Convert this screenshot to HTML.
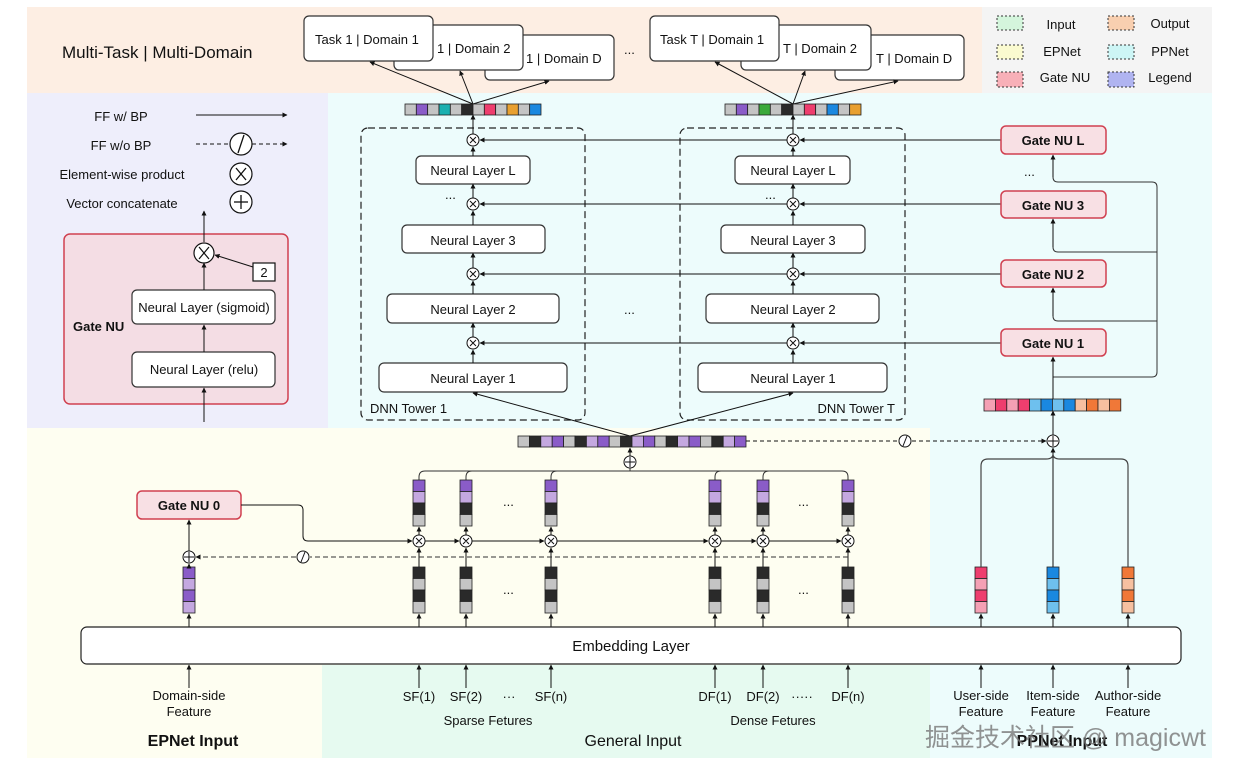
<!DOCTYPE html>
<html><head><meta charset="utf-8"><style>
html,body{margin:0;padding:0;background:#fff;}
svg{display:block;font-family:"Liberation Sans","Noto Sans CJK SC",sans-serif;}
.t{font-size:13px;fill:#111;}
.b{font-weight:bold;}
</style></head><body>
<svg width="1236" height="774" viewBox="0 0 1236 774" xmlns="http://www.w3.org/2000/svg">
<defs>
<marker id="a" viewBox="0 0 10 10" refX="9" refY="5" markerWidth="5" markerHeight="5" orient="auto"><path d="M0,0 L10,5 L0,10z" fill="#111"/></marker>
</defs>
<rect x="27" y="7" width="955" height="86" fill="#fdeee3"/>
<rect x="982" y="7" width="230" height="86" fill="#f4f4f4"/>
<rect x="27" y="93" width="301" height="335" fill="#eeeefb"/>
<rect x="328" y="93" width="884" height="335" fill="#edfcfc"/>
<rect x="930" y="428" width="282" height="330" fill="#edfcfc"/>
<rect x="27" y="428" width="903" height="330" fill="#fefef1"/>
<rect x="322" y="665" width="608" height="93" fill="#e6faf0"/>

<g stroke="#333" stroke-dasharray="2,2" stroke-width="1">
<rect x="997" y="16" width="26" height="14" fill="#d4f5dc"/>
<rect x="997" y="45" width="26" height="14" fill="#fafad0"/>
<rect x="997" y="72" width="26" height="15" fill="#f8b0b8"/>
<rect x="1108" y="16" width="26" height="14" fill="#f8cfb0"/>
<rect x="1108" y="45" width="26" height="14" fill="#cdf5f5"/>
<rect x="1108" y="72" width="26" height="15" fill="#b0b4f0"/>
</g>
<g class="t" font-size="15" text-anchor="middle">
<text x="1061" y="29">Input</text><text x="1062" y="56">EPNet</text><text x="1065" y="82">Gate NU</text>
<text x="1170" y="28">Output</text><text x="1170" y="56">PPNet</text><text x="1170" y="82">Legend</text>
</g>

<text x="62" y="58" font-size="17" fill="#111">Multi-Task | Multi-Domain</text>

<g fill="#fff" stroke="#333" stroke-width="1.2">
<rect x="485" y="35" width="129" height="45" rx="5"/>
<rect x="394" y="25" width="129" height="45" rx="5"/>
<rect x="304" y="16" width="129" height="45" rx="5"/>
<rect x="835" y="35" width="129" height="45" rx="5"/>
<rect x="741" y="25" width="130" height="45" rx="5"/>
<rect x="650" y="16" width="129" height="45" rx="5"/>
</g>
<g class="t">
<text x="315" y="44">Task 1 | Domain 1</text>
<text x="437" y="53">1 | Domain 2</text>
<text x="526" y="63">1 | Domain D</text>
<text x="660" y="44">Task T | Domain 1</text>
<text x="783" y="53">T | Domain 2</text>
<text x="876" y="63">T | Domain D</text>
<text x="624" y="54">...</text>
</g>
<g stroke="#111" stroke-width="1" marker-end="url(#a)">
<line x1="473" y1="104" x2="370" y2="62"/>
<line x1="473" y1="104" x2="460" y2="71"/>
<line x1="473" y1="104" x2="549" y2="81"/>
<line x1="793" y1="104" x2="715" y2="62"/>
<line x1="793" y1="104" x2="805" y2="71"/>
<line x1="793" y1="104" x2="898" y2="81"/>
</g>

<g stroke="#222" stroke-width="0.8">
<rect x="405" y="104" width="11.33" height="11" fill="#c4c4c4"/><rect x="416.33" y="104" width="11.33" height="11" fill="#8a5cc8"/><rect x="427.66" y="104" width="11.33" height="11" fill="#c4c4c4"/><rect x="439" y="104" width="11.33" height="11" fill="#1ab0b0"/><rect x="450.33" y="104" width="11.33" height="11" fill="#c4c4c4"/><rect x="461.66" y="104" width="11.33" height="11" fill="#2a2a2a"/><rect x="473" y="104" width="11.33" height="11" fill="#c4c4c4"/><rect x="484.33" y="104" width="11.33" height="11" fill="#ee3e6e"/><rect x="495.66" y="104" width="11.33" height="11" fill="#c4c4c4"/><rect x="507" y="104" width="11.33" height="11" fill="#e8a030"/><rect x="518.33" y="104" width="11.33" height="11" fill="#c4c4c4"/><rect x="529.66" y="104" width="11.33" height="11" fill="#1a88e0"/>
<rect x="725" y="104" width="11.33" height="11" fill="#c4c4c4"/><rect x="736.33" y="104" width="11.33" height="11" fill="#8a5cc8"/><rect x="747.66" y="104" width="11.33" height="11" fill="#c4c4c4"/><rect x="759" y="104" width="11.33" height="11" fill="#3aaa3a"/><rect x="770.33" y="104" width="11.33" height="11" fill="#c4c4c4"/><rect x="781.66" y="104" width="11.33" height="11" fill="#2a2a2a"/><rect x="793" y="104" width="11.33" height="11" fill="#c4c4c4"/><rect x="804.33" y="104" width="11.33" height="11" fill="#ee3e6e"/><rect x="815.66" y="104" width="11.33" height="11" fill="#c4c4c4"/><rect x="827" y="104" width="11.33" height="11" fill="#1a88e0"/><rect x="838.33" y="104" width="11.33" height="11" fill="#c4c4c4"/><rect x="849.66" y="104" width="11.33" height="11" fill="#e8a030"/>
</g>

<g fill="none" stroke="#222" stroke-width="1.2" stroke-dasharray="7,4">
<rect x="361" y="128" width="224" height="292" rx="7"/>
<rect x="680" y="128" width="225" height="292" rx="7"/>
</g>
<text x="370" y="413" class="t" font-size="14">DNN Tower 1</text>
<text x="895" y="413" class="t" font-size="14" text-anchor="end">DNN Tower T</text>

<g fill="#fff" stroke="#333" stroke-width="1.2">
<rect x="416" y="156" width="114" height="28" rx="5"/>
<rect x="402" y="225" width="143" height="28" rx="5"/>
<rect x="387" y="294" width="172" height="29" rx="5"/>
<rect x="379" y="363" width="188" height="29" rx="5"/>
<rect x="735" y="156" width="115" height="28" rx="5"/>
<rect x="721" y="225" width="144" height="28" rx="5"/>
<rect x="706" y="294" width="173" height="29" rx="5"/>
<rect x="698" y="363" width="189" height="29" rx="5"/>
</g>
<g class="t" font-size="14" text-anchor="middle">
<text x="473" y="175">Neural Layer L</text><text x="473" y="245">Neural Layer 3</text><text x="473" y="314">Neural Layer 2</text><text x="473" y="383">Neural Layer 1</text>
<text x="793" y="175">Neural Layer L</text><text x="793" y="245">Neural Layer 3</text><text x="793" y="314">Neural Layer 2</text><text x="793" y="383">Neural Layer 1</text>
</g>
<g class="t"><text x="445" y="199">...</text><text x="765" y="199">...</text><text x="624" y="314">...</text><text x="1024" y="176">...</text></g>

<g stroke="#111" stroke-width="1" marker-end="url(#a)">
<line x1="473" y1="363" x2="473" y2="350"/><line x1="473" y1="337" x2="473" y2="323"/><line x1="473" y1="294" x2="473" y2="281"/><line x1="473" y1="268" x2="473" y2="253"/><line x1="473" y1="225" x2="473" y2="211"/><line x1="473" y1="198" x2="473" y2="184"/><line x1="473" y1="156" x2="473" y2="147"/><line x1="473" y1="134" x2="473" y2="115"/>
<line x1="793" y1="363" x2="793" y2="350"/><line x1="793" y1="337" x2="793" y2="323"/><line x1="793" y1="294" x2="793" y2="281"/><line x1="793" y1="268" x2="793" y2="253"/><line x1="793" y1="225" x2="793" y2="211"/><line x1="793" y1="198" x2="793" y2="184"/><line x1="793" y1="156" x2="793" y2="147"/><line x1="793" y1="134" x2="793" y2="115"/>
<line x1="1001" y1="140" x2="800" y2="140"/><line x1="787" y1="140" x2="480" y2="140"/>
<line x1="1001" y1="204" x2="800" y2="204"/><line x1="787" y1="204" x2="480" y2="204"/>
<line x1="1001" y1="274" x2="800" y2="274"/><line x1="787" y1="274" x2="480" y2="274"/>
<line x1="1001" y1="343" x2="800" y2="343"/><line x1="787" y1="343" x2="480" y2="343"/>
<line x1="630" y1="436" x2="473" y2="393"/><line x1="630" y1="436" x2="793" y2="393"/>
</g>
<g fill="#fff" stroke="#111" stroke-width="1">
<circle cx="473" cy="140" r="6"/><circle cx="473" cy="204" r="6"/><circle cx="473" cy="274" r="6"/><circle cx="473" cy="343" r="6"/>
<circle cx="793" cy="140" r="6"/><circle cx="793" cy="204" r="6"/><circle cx="793" cy="274" r="6"/><circle cx="793" cy="343" r="6"/>
<circle cx="419" cy="541" r="6"/><circle cx="466" cy="541" r="6"/><circle cx="551" cy="541" r="6"/><circle cx="715" cy="541" r="6"/><circle cx="763" cy="541" r="6"/><circle cx="848" cy="541" r="6"/>
</g>
<g stroke="#111" stroke-width="1">
<path d="M470,137l6,6M476,137l-6,6M470,201l6,6M476,201l-6,6M470,271l6,6M476,271l-6,6M470,340l6,6M476,340l-6,6"/>
<path d="M790,137l6,6M796,137l-6,6M790,201l6,6M796,201l-6,6M790,271l6,6M796,271l-6,6M790,340l6,6M796,340l-6,6"/>
<path d="M416,538l6,6M422,538l-6,6M463,538l6,6M469,538l-6,6M548,538l6,6M554,538l-6,6M712,538l6,6M718,538l-6,6M760,538l6,6M766,538l-6,6M845,538l6,6M851,538l-6,6"/>
</g>

<g fill="#f8e0e4" stroke="#d04050" stroke-width="1.5">
<rect x="1001" y="126" width="105" height="28" rx="5"/>
<rect x="1001" y="191" width="105" height="27" rx="5"/>
<rect x="1001" y="260" width="105" height="27" rx="5"/>
<rect x="1001" y="329" width="105" height="27" rx="5"/>
<rect x="137" y="491" width="104" height="28" rx="5"/>
</g>
<g class="t b" font-size="14" text-anchor="middle">
<text x="1053" y="145">Gate NU L</text><text x="1053" y="210">Gate NU 3</text><text x="1053" y="279">Gate NU 2</text><text x="1053" y="348">Gate NU 1</text>
<text x="189" y="510">Gate NU 0</text>
</g>

<g fill="none" stroke="#333" stroke-width="1">
<path d="M1053,377 H1152 Q1157,377 1157,372 V187 Q1157,182 1152,182 H1058 Q1053,182 1053,177"/>
<path d="M1157,321 H1058 Q1053,321 1053,316"/>
<path d="M1157,252 H1058 Q1053,252 1053,247"/>
</g>
<g stroke="#111" stroke-width="1" marker-end="url(#a)">
<line x1="1053" y1="399" x2="1053" y2="357"/>
<line x1="1053" y1="316" x2="1053" y2="288"/>
<line x1="1053" y1="247" x2="1053" y2="219"/>
<line x1="1053" y1="177" x2="1053" y2="155"/>
<line x1="1053" y1="435" x2="1053" y2="411"/>
</g>
<g stroke="#222" stroke-width="0.8">
<rect x="984" y="399" width="11.4" height="12" fill="#f4a0b4"/><rect x="995.4" y="399" width="11.4" height="12" fill="#ee3e6e"/><rect x="1006.8" y="399" width="11.4" height="12" fill="#f4a0b4"/><rect x="1018.2" y="399" width="11.4" height="12" fill="#ee3e6e"/><rect x="1029.6" y="399" width="11.4" height="12" fill="#6ec0ee"/><rect x="1041" y="399" width="11.4" height="12" fill="#1a88e0"/><rect x="1052.4" y="399" width="11.4" height="12" fill="#6ec0ee"/><rect x="1063.8" y="399" width="11.4" height="12" fill="#1a88e0"/><rect x="1075.2" y="399" width="11.4" height="12" fill="#f6c0a0"/><rect x="1086.6" y="399" width="11.4" height="12" fill="#f07838"/><rect x="1098" y="399" width="11.4" height="12" fill="#f6c0a0"/><rect x="1109.4" y="399" width="11.4" height="12" fill="#f07838"/>
</g>

<g class="t" text-anchor="middle">
<text x="121" y="121">FF w/ BP</text>
<text x="121" y="150">FF w/o BP</text>
<text x="122" y="179">Element-wise product</text>
<text x="122" y="208">Vector concatenate</text>
</g>
<g stroke="#111" stroke-width="1">
<line x1="196" y1="115" x2="287" y2="115" marker-end="url(#a)"/>
<line x1="196" y1="144" x2="231" y2="144" stroke-dasharray="4,3"/>
<line x1="252" y1="144" x2="287" y2="144" stroke-dasharray="4,3" marker-end="url(#a)"/>
</g>
<g fill="#fff" stroke="#111" stroke-width="1.2">
<circle cx="241" cy="144" r="11"/><circle cx="241" cy="174" r="11"/><circle cx="241" cy="202" r="11"/>
</g>
<g stroke="#111" stroke-width="1.3">
<line x1="238" y1="153" x2="244" y2="135"/>
<line x1="236" y1="168" x2="246" y2="180"/><line x1="246" y1="168" x2="236" y2="180"/>
<line x1="234" y1="202" x2="248" y2="202"/><line x1="241" y1="195" x2="241" y2="209"/>
</g>
<rect x="64" y="234" width="224" height="170" rx="6" fill="#f4dde4" stroke="#d04050" stroke-width="1.5"/>
<g fill="#fff" stroke="#333" stroke-width="1.2">
<rect x="132" y="290" width="143" height="34" rx="5"/>
<rect x="132" y="352" width="143" height="35" rx="5"/>
</g>
<g class="t" text-anchor="middle"><text x="204" y="312">Neural Layer (sigmoid)</text><text x="204" y="374">Neural Layer (relu)</text></g>
<text x="73" y="331" class="t b" font-size="13">Gate NU</text>
<g stroke="#111" stroke-width="1" marker-end="url(#a)">
<line x1="204" y1="422" x2="204" y2="388"/>
<line x1="204" y1="352" x2="204" y2="325"/>
<line x1="204" y1="290" x2="204" y2="263"/>
<line x1="204" y1="242" x2="204" y2="211"/>
<line x1="253" y1="267" x2="215" y2="255"/>
</g>
<circle cx="204" cy="253" r="10" fill="#fff" stroke="#111" stroke-width="1.2"/>
<path d="M199,247l10,12M209,247l-10,12" stroke="#111" stroke-width="1.2"/>
<rect x="253" y="263" width="22" height="18" fill="#fff" stroke="#111" stroke-width="1.2"/>
<text x="264" y="277" class="t" text-anchor="middle">2</text>

<g stroke="#222" stroke-width="0.8">
<rect x="518" y="436" width="11.4" height="11" fill="#c4c4c4"/><rect x="529.4" y="436" width="11.4" height="11" fill="#2a2a2a"/><rect x="540.8" y="436" width="11.4" height="11" fill="#c4a8e0"/><rect x="552.2" y="436" width="11.4" height="11" fill="#8a5cc8"/><rect x="563.6" y="436" width="11.4" height="11" fill="#c4c4c4"/><rect x="575" y="436" width="11.4" height="11" fill="#2a2a2a"/><rect x="586.4" y="436" width="11.4" height="11" fill="#c4a8e0"/><rect x="597.8" y="436" width="11.4" height="11" fill="#8a5cc8"/><rect x="609.2" y="436" width="11.4" height="11" fill="#c4c4c4"/><rect x="620.6" y="436" width="11.4" height="11" fill="#2a2a2a"/><rect x="632" y="436" width="11.4" height="11" fill="#c4a8e0"/><rect x="643.4" y="436" width="11.4" height="11" fill="#8a5cc8"/><rect x="654.8" y="436" width="11.4" height="11" fill="#c4c4c4"/><rect x="666.2" y="436" width="11.4" height="11" fill="#2a2a2a"/><rect x="677.6" y="436" width="11.4" height="11" fill="#c4a8e0"/><rect x="689" y="436" width="11.4" height="11" fill="#8a5cc8"/><rect x="700.4" y="436" width="11.4" height="11" fill="#c4c4c4"/><rect x="711.8" y="436" width="11.4" height="11" fill="#2a2a2a"/><rect x="723.2" y="436" width="11.4" height="11" fill="#c4a8e0"/><rect x="734.6" y="436" width="11.4" height="11" fill="#8a5cc8"/>
</g>
<line x1="746" y1="441" x2="898" y2="441" stroke="#111" stroke-dasharray="4,3"/>
<line x1="912" y1="441" x2="1046" y2="441" stroke="#111" stroke-dasharray="4,3" marker-end="url(#a)"/>
<circle cx="905" cy="441" r="6" fill="#fff" stroke="#111"/><line x1="903" y1="446" x2="907" y2="436" stroke="#111"/>
<circle cx="1053" cy="441" r="6" fill="#fff" stroke="#111"/><path d="M1048,441h10M1053,436v10" stroke="#111"/>
<line x1="630" y1="456" x2="630" y2="448" stroke="#111" marker-end="url(#a)"/>
<circle cx="630" cy="462" r="6" fill="#fff" stroke="#111"/><path d="M625,462h10M630,457v10" stroke="#111"/>
<g fill="none" stroke="#333" stroke-width="1">
<line x1="630" y1="468" x2="630" y2="471"/>
<path d="M419,480 V477 Q419,471 425,471 H842 Q848,471 848,477 V480"/>
<path d="M466,480 V477 Q466,471 472,471"/><path d="M551,480 V477 Q551,471 557,471"/>
<path d="M715,480 V477 Q715,471 721,471"/><path d="M763,480 V477 Q763,471 769,471"/>
</g>

<g stroke="#222" stroke-width="0.8">
<g id="ct"><rect x="413" y="480" width="12" height="11.5" fill="#8a5cc8"/><rect x="413" y="491.5" width="12" height="11.5" fill="#c4a8e0"/><rect x="413" y="503" width="12" height="11.5" fill="#2a2a2a"/><rect x="413" y="514.5" width="12" height="11.5" fill="#c4c4c4"/>
<rect x="413" y="567" width="12" height="11.5" fill="#2a2a2a"/><rect x="413" y="578.5" width="12" height="11.5" fill="#c4c4c4"/><rect x="413" y="590" width="12" height="11.5" fill="#2a2a2a"/><rect x="413" y="601.5" width="12" height="11.5" fill="#c4c4c4"/></g>
<use href="#ct" x="47"/><use href="#ct" x="132"/><use href="#ct" x="296"/><use href="#ct" x="344"/><use href="#ct" x="429"/>
<rect x="183" y="567" width="12" height="11.5" fill="#8a5cc8"/><rect x="183" y="578.5" width="12" height="11.5" fill="#c4a8e0"/><rect x="183" y="590" width="12" height="11.5" fill="#8a5cc8"/><rect x="183" y="601.5" width="12" height="11.5" fill="#c4a8e0"/>
<rect x="975" y="567" width="12" height="11.5" fill="#ee3e6e"/><rect x="975" y="578.5" width="12" height="11.5" fill="#f4a0b4"/><rect x="975" y="590" width="12" height="11.5" fill="#ee3e6e"/><rect x="975" y="601.5" width="12" height="11.5" fill="#f4a0b4"/>
<rect x="1047" y="567" width="12" height="11.5" fill="#1a88e0"/><rect x="1047" y="578.5" width="12" height="11.5" fill="#6ec0ee"/><rect x="1047" y="590" width="12" height="11.5" fill="#1a88e0"/><rect x="1047" y="601.5" width="12" height="11.5" fill="#6ec0ee"/>
<rect x="1122" y="567" width="12" height="11.5" fill="#f07838"/><rect x="1122" y="578.5" width="12" height="11.5" fill="#f6c0a0"/><rect x="1122" y="590" width="12" height="11.5" fill="#f07838"/><rect x="1122" y="601.5" width="12" height="11.5" fill="#f6c0a0"/>
</g>
<g class="t"><text x="503" y="506">...</text><text x="503" y="594">...</text><text x="798" y="506">...</text><text x="798" y="594">...</text></g>

<g stroke="#111" stroke-width="1" marker-end="url(#a)">
<line x1="419" y1="535" x2="419" y2="527"/><line x1="466" y1="535" x2="466" y2="527"/><line x1="551" y1="535" x2="551" y2="527"/><line x1="715" y1="535" x2="715" y2="527"/><line x1="763" y1="535" x2="763" y2="527"/><line x1="848" y1="535" x2="848" y2="527"/>
<line x1="419" y1="567" x2="419" y2="548"/><line x1="466" y1="567" x2="466" y2="548"/><line x1="551" y1="567" x2="551" y2="548"/><line x1="715" y1="567" x2="715" y2="548"/><line x1="763" y1="567" x2="763" y2="548"/><line x1="848" y1="567" x2="848" y2="548"/>
<line x1="425" y1="541" x2="459" y2="541"/><line x1="472" y1="541" x2="544" y2="541"/><line x1="557" y1="541" x2="708" y2="541"/><line x1="721" y1="541" x2="756" y2="541"/><line x1="769" y1="541" x2="841" y2="541"/>
<line x1="189" y1="627" x2="189" y2="614"/><line x1="419" y1="627" x2="419" y2="614"/><line x1="466" y1="627" x2="466" y2="614"/><line x1="551" y1="627" x2="551" y2="614"/><line x1="715" y1="627" x2="715" y2="614"/><line x1="763" y1="627" x2="763" y2="614"/><line x1="848" y1="627" x2="848" y2="614"/><line x1="981" y1="627" x2="981" y2="614"/><line x1="1053" y1="627" x2="1053" y2="614"/><line x1="1128" y1="627" x2="1128" y2="614"/>
<line x1="189" y1="688" x2="189" y2="665"/><line x1="419" y1="688" x2="419" y2="665"/><line x1="466" y1="688" x2="466" y2="665"/><line x1="551" y1="688" x2="551" y2="665"/><line x1="715" y1="688" x2="715" y2="665"/><line x1="763" y1="688" x2="763" y2="665"/><line x1="848" y1="688" x2="848" y2="665"/><line x1="981" y1="688" x2="981" y2="665"/><line x1="1053" y1="688" x2="1053" y2="665"/><line x1="1128" y1="688" x2="1128" y2="665"/>
<line x1="189" y1="567" x2="189" y2="564"/><line x1="189" y1="551" x2="189" y2="520"/>
<line x1="1053" y1="567" x2="1053" y2="448"/>
</g>
<path d="M241,505 H298 Q303,505 303,510 V536 Q303,541 308,541 H412" fill="none" stroke="#111" marker-end="url(#a)"/>
<line x1="848" y1="557" x2="310" y2="557" stroke="#333" stroke-dasharray="5,3"/>
<line x1="296" y1="557" x2="196" y2="557" stroke="#333" stroke-dasharray="5,3" marker-end="url(#a)"/>
<circle cx="303" cy="557" r="6" fill="#fff" stroke="#111"/><line x1="301" y1="562" x2="305" y2="552" stroke="#111"/>
<circle cx="189" cy="557" r="6" fill="#fff" stroke="#111"/><path d="M184,557h10M189,552v10" stroke="#111"/>
<path d="M981,567 V466 Q981,459 988,459 H1046 Q1053,459 1053,454 Q1053,459 1060,459 H1121 Q1128,459 1128,466 V567" fill="none" stroke="#444" stroke-width="1.2"/>

<rect x="81" y="627" width="1100" height="37" rx="6" fill="#fff" stroke="#222" stroke-width="1.2"/>
<text x="631" y="651" font-size="15" fill="#111" text-anchor="middle">Embedding Layer</text>

<g class="t" text-anchor="middle">
<text x="189" y="700">Domain-side</text><text x="189" y="716">Feature</text>
<text x="419" y="701">SF(1)</text><text x="466" y="701">SF(2)</text><text x="509" y="701">···</text><text x="551" y="701">SF(n)</text>
<text x="488" y="725">Sparse Fetures</text>
<text x="715" y="701">DF(1)</text><text x="763" y="701">DF(2)</text><text x="802" y="701">·····</text><text x="848" y="701">DF(n)</text>
<text x="773" y="725">Dense Fetures</text>
<text x="981" y="700">User-side</text><text x="981" y="716">Feature</text>
<text x="1053" y="700">Item-side</text><text x="1053" y="716">Feature</text>
<text x="1128" y="700">Author-side</text><text x="1128" y="716">Feature</text>
</g>
<text x="193" y="746" font-size="16" font-weight="bold" fill="#111" text-anchor="middle">EPNet Input</text>
<text x="633" y="746" font-size="16" fill="#111" text-anchor="middle">General Input</text>
<text x="1062" y="746" font-size="16" font-weight="bold" fill="#111" text-anchor="middle">PPNet Input</text>
<text x="925" y="746" font-size="25" fill="#777" fill-opacity="0.8">掘金技术社区 @ magicwt</text>
</svg>
</body></html>
